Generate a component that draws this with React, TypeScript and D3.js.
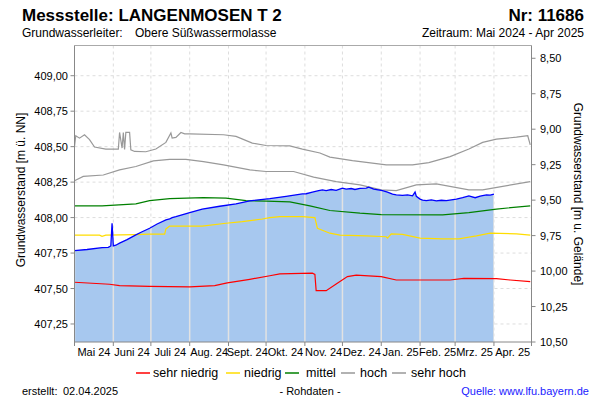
import React from "react";
import * as d3 from "d3";

type Pt = [string, number];

// Measured groundwater level (m ü. NN)
const measured: Pt[] = [
  ["2024-05-01", 407.767], ["2024-05-11", 407.775], ["2024-05-23", 407.788], ["2024-05-28", 407.79],
  ["2024-05-30", 407.80], ["2024-05-31", 407.96], ["2024-06-01", 407.80], ["2024-06-03", 407.805],
  ["2024-06-06", 407.82], ["2024-06-12", 407.845], ["2024-06-19", 407.878], ["2024-06-24", 407.90],
  ["2024-06-30", 407.925], ["2024-07-06", 407.955], ["2024-07-13", 407.984], ["2024-07-16", 407.99],
  ["2024-07-18", 408.0], ["2024-07-21", 408.007], ["2024-08-01", 408.035], ["2024-08-11", 408.06],
  ["2024-08-25", 408.08], ["2024-09-07", 408.097], ["2024-09-18", 408.118], ["2024-10-04", 408.134],
  ["2024-10-17", 408.15], ["2024-10-30", 408.167], ["2024-11-02", 408.168], ["2024-11-07", 408.18],
  ["2024-11-12", 408.19], ["2024-11-15", 408.195], ["2024-11-18", 408.19], ["2024-11-22", 408.198],
  ["2024-11-26", 408.192], ["2024-12-01", 408.207], ["2024-12-04", 408.20], ["2024-12-08", 408.205],
  ["2024-12-11", 408.198], ["2024-12-15", 408.206], ["2024-12-20", 408.207], ["2024-12-22", 408.214],
  ["2024-12-26", 408.20], ["2025-01-02", 408.19], ["2025-01-06", 408.18], ["2025-01-10", 408.165],
  ["2025-01-13", 408.16], ["2025-01-18", 408.157], ["2025-01-22", 408.16], ["2025-01-26", 408.153],
  ["2025-01-28", 408.18], ["2025-01-29", 408.15], ["2025-02-01", 408.13], ["2025-02-03", 408.123],
  ["2025-02-06", 408.12], ["2025-02-10", 408.125], ["2025-02-14", 408.118], ["2025-02-18", 408.122],
  ["2025-02-22", 408.12], ["2025-03-02", 408.13], ["2025-03-07", 408.14], ["2025-03-12", 408.153],
  ["2025-03-17", 408.14], ["2025-03-21", 408.152], ["2025-03-26", 408.16], ["2025-03-29", 408.158],
  ["2025-04-01", 408.165],
];

// Daily statistics
const sehrNiedrig: Pt[] = [
  ["2024-05-01", 407.544], ["2024-05-29", 407.53], ["2024-06-06", 407.52], ["2024-06-30", 407.515],
  ["2024-08-01", 407.512], ["2024-08-21", 407.52], ["2024-08-31", 407.54], ["2024-09-18", 407.565],
  ["2024-10-04", 407.59], ["2024-10-12", 407.603], ["2024-11-07", 407.608], ["2024-11-09", 407.60],
  ["2024-11-10", 407.485], ["2024-11-18", 407.485], ["2024-11-26", 407.532], ["2024-12-05", 407.584],
  ["2024-12-12", 407.594], ["2025-01-01", 407.584], ["2025-01-13", 407.56], ["2025-02-25", 407.56],
  ["2025-03-08", 407.572], ["2025-04-03", 407.57], ["2025-04-14", 407.56], ["2025-04-30", 407.548],
];

const niedrig: Pt[] = [
  ["2024-05-01", 407.876], ["2024-05-21", 407.876], ["2024-05-23", 407.868], ["2024-05-26", 407.876],
  ["2024-06-19", 407.88], ["2024-06-30", 407.883], ["2024-07-12", 407.883], ["2024-07-13", 407.92],
  ["2024-07-16", 407.94], ["2024-08-11", 407.94], ["2024-08-30", 407.96], ["2024-09-12", 407.972],
  ["2024-09-28", 407.99], ["2024-10-04", 408.0], ["2024-10-12", 408.007], ["2024-10-30", 408.007],
  ["2024-11-09", 408.0], ["2024-11-11", 407.925], ["2024-11-21", 407.89], ["2024-11-29", 407.876],
  ["2024-12-20", 407.871], ["2025-01-05", 407.865], ["2025-01-06", 407.855], ["2025-01-09", 407.885],
  ["2025-01-18", 407.882], ["2025-02-01", 407.855], ["2025-02-19", 407.85], ["2025-03-04", 407.85],
  ["2025-03-18", 407.871], ["2025-03-29", 407.89], ["2025-04-19", 407.885], ["2025-04-30", 407.876],
];

const mittel: Pt[] = [
  ["2024-05-01", 408.083], ["2024-05-23", 408.083], ["2024-06-19", 408.097], ["2024-06-30", 408.12],
  ["2024-07-16", 408.134], ["2024-08-12", 408.141], ["2024-08-30", 408.137], ["2024-09-15", 408.12],
  ["2024-10-01", 408.116], ["2024-10-20", 408.111], ["2024-11-05", 408.083], ["2024-11-21", 408.05],
  ["2024-12-15", 408.031], ["2025-01-01", 408.021], ["2025-02-19", 408.019], ["2025-03-12", 408.035],
  ["2025-04-03", 408.06], ["2025-04-30", 408.083],
];

const hoch: Pt[] = [
  ["2024-05-01", 408.26], ["2024-05-08", 408.29], ["2024-05-24", 408.30], ["2024-06-06", 408.336],
  ["2024-06-19", 408.36], ["2024-07-03", 408.40], ["2024-07-16", 408.41], ["2024-07-29", 408.41],
  ["2024-08-12", 408.395], ["2024-08-28", 408.372], ["2024-09-18", 408.336], ["2024-10-01", 408.325],
  ["2024-10-23", 408.325], ["2024-11-08", 408.285], ["2024-11-26", 408.254], ["2024-12-15", 408.231],
  ["2025-01-01", 408.195], ["2025-01-13", 408.19], ["2025-01-29", 408.231], ["2025-02-14", 408.238],
  ["2025-03-12", 408.195], ["2025-03-23", 408.195], ["2025-04-08", 408.22], ["2025-04-30", 408.254],
];

const sehrHoch: Pt[] = [
  ["2024-05-01", 408.50], ["2024-05-02", 408.577], ["2024-05-05", 408.56], ["2024-05-09", 408.584],
  ["2024-05-13", 408.55], ["2024-05-17", 408.497], ["2024-05-26", 408.483], ["2024-06-05", 408.483],
  ["2024-06-06", 408.60], ["2024-06-08", 408.49], ["2024-06-09", 408.60], ["2024-06-10", 408.48],
  ["2024-06-11", 408.60], ["2024-06-14", 408.60], ["2024-06-15", 408.478], ["2024-06-18", 408.466],
  ["2024-06-27", 408.464], ["2024-07-05", 408.483], ["2024-07-13", 408.53], ["2024-07-17", 408.596],
  ["2024-07-18", 408.56], ["2024-07-21", 408.565], ["2024-07-25", 408.60], ["2024-07-28", 408.59],
  ["2024-08-01", 408.59], ["2024-08-28", 408.584], ["2024-09-07", 408.572], ["2024-09-20", 408.525],
  ["2024-10-01", 408.508], ["2024-10-20", 408.506], ["2024-10-30", 408.483], ["2024-11-13", 408.455],
  ["2024-11-21", 408.426], ["2024-12-09", 408.402], ["2025-01-05", 408.372], ["2025-01-26", 408.372],
  ["2025-02-08", 408.388], ["2025-02-25", 408.43], ["2025-03-12", 408.483], ["2025-03-23", 408.53],
  ["2025-04-03", 408.553], ["2025-04-19", 408.567], ["2025-04-28", 408.577], ["2025-04-30", 408.513],
];

const monthLabels = ["Mai 24", "Juni 24", "Juli 24", "Aug. 24", "Sept. 24", "Okt. 24", "Nov. 24", "Dez. 24", "Jan. 25", "Feb. 25", "Mrz. 25", "Apr. 25"];
const leftTicks = [407.25, 407.5, 407.75, 408.0, 408.25, 408.5, 408.75, 409.0];
const rightTicks = [8.5, 8.75, 9.0, 9.25, 9.5, 9.75, 10.0, 10.25, 10.5];
const groundLevel = 417.623;

const legendItems = [
  { label: "sehr niedrig", color: "#ff0000" },
  { label: "niedrig", color: "#ffdd00" },
  { label: "mittel", color: "#008000" },
  { label: "hoch", color: "#999999" },
  { label: "sehr hoch", color: "#999999" },
];

const FONT = "'Liberation Sans', Arial, sans-serif";
const parse = d3.timeParse("%Y-%m-%d");

export default function App() {
  const L = 74.5, R = 531.5, T = 45.5, B = 342;
  const x = d3.scaleTime().domain([new Date(2024, 4, 1), new Date(2025, 4, 1)]).range([L, R]);
  const y = d3.scaleLinear().domain([407.123, 409.213]).range([B, T]);
  const yR = d3.scaleLinear().domain([groundLevel - 407.123, groundLevel - 409.213]).range([B, T]);

  const line = d3.line<Pt>().x((d) => x(parse(d[0])!)).y((d) => y(d[1]));
  const area = d3.area<Pt>().x((d) => x(parse(d[0])!)).y0(B).y1((d) => y(d[1]));
  const months = d3.timeMonth.range(new Date(2024, 4, 1), new Date(2025, 4, 2));
  const fmt = (v: number) => v.toFixed(2).replace(".", ",");

  const fmtLegend = [136, 226, 285, 341, 392];
  const fmtLegendText = [153, 244, 306, 360, 411];

  return (
    <svg width={600} height={400} style={{ position: "absolute", left: 0, top: 0, background: "#fff" }} fontFamily={FONT}>
      <defs>
        <clipPath id="fillclip">
          <path d={area(measured) || ""} />
        </clipPath>
      </defs>
      <rect x={0} y={0} width={600} height={400} fill="#fff" />
      {/* Header */}
      <text x={22} y={21} fontSize={17} fontWeight="bold">Messstelle: LANGENMOSEN T 2</text>
      <text x={584} y={21} fontSize={17} fontWeight="bold" textAnchor="end">Nr: 11686</text>
      <text x={22} y={37} fontSize={12}>Grundwasserleiter:</text>
      <text x={135} y={37} fontSize={12}>Obere Süßwassermolasse</text>
      <text x={584} y={37} fontSize={12} textAnchor="end">Zeitraum: Mai 2024 - Apr 2025</text>

      {/* Grid */}
      {leftTicks.map((t) => (
        <line key={"h" + t} x1={L} x2={R} y1={y(t)} y2={y(t)} stroke="#dddddd" strokeDasharray="3,3" />
      ))}
      {months.map((m, i) => (
        <line key={"v" + i} x1={x(m)} x2={x(m)} y1={T} y2={B} stroke="#dddddd" strokeDasharray="3,3" />
      ))}

      {/* Fill */}
      <path d={area(measured) || ""} fill="#a7c8ef" />
      <g clipPath="url(#fillclip)">
        {months.map((m, i) => (
          <line key={"vf" + i} x1={x(m)} x2={x(m)} y1={T} y2={B} stroke="#e2e2e2" strokeWidth={1.5} />
        ))}
      </g>

      {/* Statistic lines */}
      <path d={line(sehrHoch) || ""} fill="none" stroke="#999999" strokeWidth={1.2} />
      <path d={line(hoch) || ""} fill="none" stroke="#999999" strokeWidth={1.2} />
      <path d={line(mittel) || ""} fill="none" stroke="#008000" strokeWidth={1.2} />
      <path d={line(niedrig) || ""} fill="none" stroke="#ffdd00" strokeWidth={1.2} />
      <path d={line(sehrNiedrig) || ""} fill="none" stroke="#ff0000" strokeWidth={1.2} />
      <path d={line(measured) || ""} fill="none" stroke="#0000ff" strokeWidth={1.3} />

      {/* Frame */}
      <line x1={L} x2={R} y1={T} y2={T} stroke="#aaaaaa" />
      <line x1={L} x2={L} y1={T} y2={B + 4} stroke="#888888" />
      <line x1={R} x2={R} y1={T} y2={B + 4} stroke="#888888" />
      <line x1={L} x2={R} y1={B} y2={B} stroke="#888888" />

      {/* Left axis */}
      {leftTicks.map((t) => (
        <g key={"lt" + t}>
          <line x1={L - 4} x2={L} y1={y(t)} y2={y(t)} stroke="#888888" />
          <text x={68} y={y(t) + 4} fontSize={11} textAnchor="end">{fmt(t)}</text>
        </g>
      ))}
      {/* Right axis */}
      {rightTicks.map((t) => (
        <g key={"rt" + t}>
          <line x1={R} x2={R + 4} y1={yR(t)} y2={yR(t)} stroke="#888888" />
          <text x={540} y={yR(t) + 4} fontSize={11}>{fmt(t)}</text>
        </g>
      ))}
      {/* X axis */}
      {months.map((m, i) => (
        <line key={"xt" + i} x1={x(m)} x2={x(m)} y1={B} y2={B + 4} stroke="#888888" />
      ))}
      {monthLabels.map((lab, i) => {
        const a = x(months[i]);
        const b = x(months[i + 1]);
        return (
          <text key={lab} x={(a + b) / 2} y={356} fontSize={11} textAnchor="middle">{lab}</text>
        );
      })}

      {/* Axis titles */}
      <text transform="translate(25,190) rotate(-90)" fontSize={12} textAnchor="middle">Grundwasserstand [m ü. NN]</text>
      <text transform="translate(574,194) rotate(90)" fontSize={12} textAnchor="middle">Grundwasserstand [m u. Gelände]</text>

      {/* Legend */}
      {legendItems.map((it, i) => (
        <g key={it.label}>
          <line x1={fmtLegend[i]} x2={fmtLegend[i] + 14} y1={373} y2={373} stroke={it.color} strokeWidth={1.5} />
          <text x={fmtLegendText[i]} y={377} fontSize={12.5}>{it.label}</text>
        </g>
      ))}

      {/* Footer */}
      <text x={22} y={395} fontSize={11}>erstellt:</text>
      <text x={63} y={395} fontSize={11}>02.04.2025</text>
      <text x={310} y={395} fontSize={11} textAnchor="middle">- Rohdaten -</text>
      <text x={589} y={395} fontSize={11} textAnchor="end" fill="#1a1aff">Quelle: www.lfu.bayern.de</text>
    </svg>
  );
}
